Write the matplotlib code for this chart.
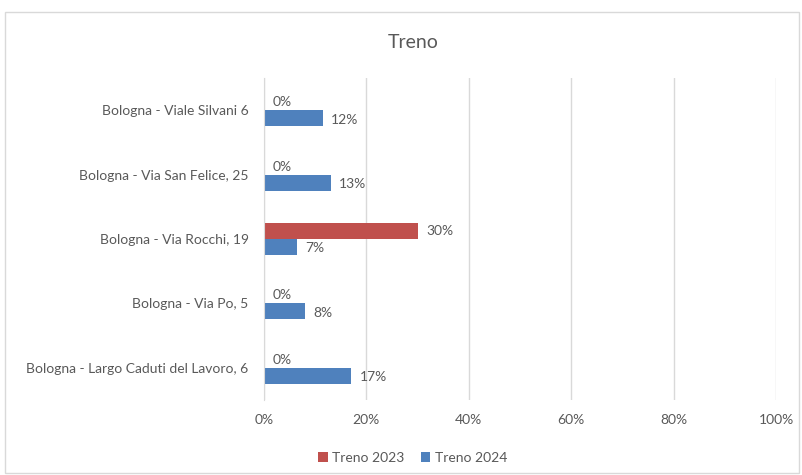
import matplotlib.pyplot as plt
import numpy as np
from matplotlib.patches import Rectangle

# data
sedi = ['Bologna - Viale Silvani 6',
        'Bologna - Via San Felice, 25',
        'Bologna - Via Rocchi, 19',
        'Bologna - Via Po, 5',
        'Bologna - Largo Caduti del Lavoro, 6']
treno_2023 = [0.00, 0.00, 0.30, 0.00, 0.00]
treno_2024 = [0.115, 0.13, 0.065, 0.08, 0.17]
labels_2023 = ['0%', '0%', '30%', '0%', '0%']
labels_2024 = ['12%', '13%', '7%', '8%', '17%']

red = '#C0504D'
blue = '#4F81BD'
txt = '#595959'
fs = 10

plt.rcParams['font.family'] = ['Lato', 'DejaVu Sans']

fig = plt.figure(figsize=(8.02, 4.75), dpi=100)
fig.patches.append(Rectangle((0.006, 0.004), 0.99, 0.97, transform=fig.transFigure,
                             fill=False, edgecolor='#D9D9D9', linewidth=1))
ax = fig.add_axes([0.3292, 0.1579, 0.6384, 0.6779])

y = np.arange(len(sedi))
h = 0.25
ax.barh(y - h / 2, treno_2023, height=h, color=red, label='Treno 2023')
ax.barh(y + h / 2, treno_2024, height=h, color=blue, label='Treno 2024')

for i in range(len(sedi)):
    ax.annotate(labels_2023[i], (treno_2023[i], y[i] - h / 2), xytext=(6, 0),
                textcoords='offset points', va='center', ha='left', fontsize=fs, color=txt)
    ax.annotate(labels_2024[i], (treno_2024[i], y[i] + h / 2), xytext=(6, -1),
                textcoords='offset points', va='center', ha='left', fontsize=fs, color=txt)

ax.set_xlim(0, 1)
ax.set_ylim(len(sedi) - 0.5, -0.5)
ax.set_xticks([0, 0.2, 0.4, 0.6, 0.8, 1.0])
ax.set_xticklabels(['0%', '20%', '40%', '60%', '80%', '100%'])
ax.set_yticks(y)
ax.set_yticklabels(sedi)
ax.tick_params(axis='both', length=0, labelsize=fs, colors=txt)
ax.tick_params(axis='x', pad=10)
ax.tick_params(axis='y', pad=11)
ax.grid(axis='x', color='#D9D9D9', linewidth=1)
ax.set_axisbelow(True)
for s in ['top', 'right', 'bottom']:
    ax.spines[s].set_visible(False)
ax.spines['left'].set_color('#D9D9D9')

fig.text(0.515, 0.91, 'Treno', ha='center', va='center', fontsize=14, color=txt)

ax.legend(loc='center', bbox_to_anchor=(0.29, -0.18), ncol=2, frameon=False,
          fontsize=fs, labelcolor=txt, handlelength=0.7, handleheight=0.7,
          handletextpad=0.3, columnspacing=1.2)

fig.savefig('out.png', dpi=100)
